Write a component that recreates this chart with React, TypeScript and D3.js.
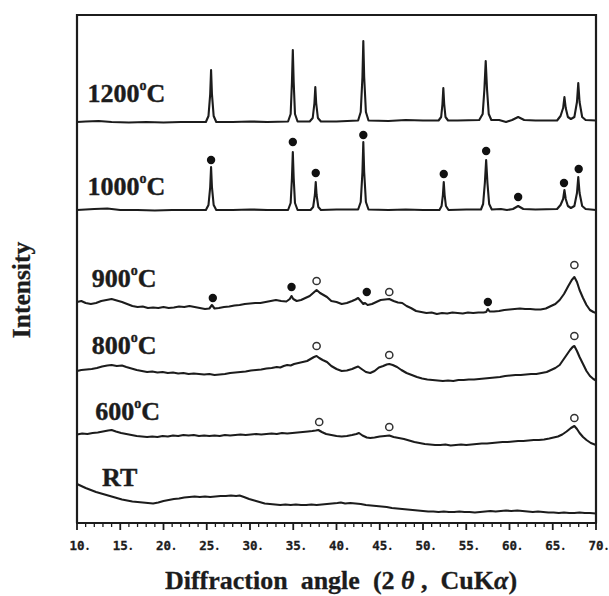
import React from "react";
import * as d3 from "d3";

// ---------- data (2θ in degrees, intensity in arbitrary units above each curve's baseline) ----------
const X_TICKS = [10, 15, 20, 25, 30, 35, 40, 45, 50, 55, 60, 65, 70];
const X_TICK_LABELS = ["10", "15", "20", "25", "30", "35", "40", "45", "50", "55", "60", "65", "70"];

const SERIES_NAMES = ["RT", "600", "800", "900", "1000", "1200"];
const SERIES_OFFSETS = [10, 78, 142, 210, 313, 401];

const RT: [number, number][] = [[10,29],[10.5,27],[11,25],[11.6,23],[12.2,21],[12.8,19.5],[13.4,18],[14,16.5],[14.6,15],[15.2,13.5],[15.8,12.5],[16.4,11.5],[17,11],[17.6,10.5],[18.2,10],[18.8,9.5],[19.4,10.5],[20,12],[20.6,13],[21.2,14],[21.8,14.5],[22.4,15.5],[23,16],[23.6,16.5],[24.2,16],[24.8,16.5],[25.4,16],[26,16.5],[26.6,17],[27.2,17],[27.8,17.5],[28.4,17],[28.8,17.5],[29.3,16],[29.9,14],[30.5,12.5],[31.1,11],[31.7,9.5],[32.3,9],[32.9,8.5],[33.5,8],[34.1,8.5],[34.7,8],[35.3,8.5],[35.9,8],[36.5,8],[37.1,8.5],[37.7,8],[38.3,8.5],[38.9,9],[39.5,9.5],[40.1,10],[40.5,10.5],[41,9.5],[41.6,10],[42.2,9.5],[42.8,9],[43.4,8],[44,7.5],[44.6,7],[45.2,6.5],[45.8,6],[46.4,5],[47,4.5],[47.6,4],[48.2,3.5],[48.8,3],[49.4,2.5],[50,2],[50.6,1.5],[51.2,1.5],[51.8,1],[52.4,1.5],[53,1],[53.6,1],[54.2,1.5],[54.8,1],[55.4,1],[56,0.5],[56.6,1],[57.2,1.5],[57.8,2],[58.4,1.5],[59,2],[59.6,2.5],[60.2,2],[60.9,2.5],[61.5,2],[62.1,1.5],[62.7,1],[63.3,1.5],[63.9,1],[64.5,0.5],[65.1,0.5],[65.7,0],[66.3,0.5],[66.9,0],[67.5,0],[68.1,0.5],[68.7,0],[69.3,0],[70,-0.5]];

const T600: [number, number][] = [[10,10.5],[10.6,11.5],[11.2,11],[11.8,12],[12.4,12.5],[13,13.5],[13.6,14.5],[14,15],[14.5,13.5],[15.1,12],[15.7,11],[16.3,10],[16.9,9],[17.5,8.5],[18.1,8],[18.7,8.5],[19.3,8],[19.9,9],[20.5,8.5],[21.1,9.5],[21.7,9],[22.3,10],[22.9,9.5],[23.5,10],[24.1,9],[24.7,9.5],[25.3,9],[25.9,9.5],[26.5,9],[27.1,10],[27.7,9.5],[28.3,10],[28.9,10.5],[29.5,10],[30.1,10.5],[30.7,11],[31.3,10.5],[31.9,11],[32.5,11.5],[33.1,11],[33.7,12],[34.3,11.5],[34.9,12],[35.5,12.5],[36.1,13],[36.7,13.5],[37.2,14],[37.6,14.5],[37.9,15],[38.3,13],[38.8,11],[39.4,10],[40,9],[40.6,8.5],[41.2,9],[41.8,10],[42.3,11],[42.6,12],[43,9.5],[43.5,7.5],[43.9,7],[44.4,7.5],[45,8.5],[45.6,9],[46.1,9.5],[46.6,8],[47.2,7],[47.8,6],[48.4,4.5],[49,3],[49.6,2],[50.2,1],[50.8,0.5],[51.4,0],[52,0],[52.6,0.5],[53.2,-0.5],[53.8,0],[54.4,0.5],[55,0],[55.6,0.5],[56.2,1],[56.8,1.5],[57.4,1.5],[58,2],[58.6,2.5],[59.2,3],[59.8,3],[60.4,3.5],[61,4],[61.6,4],[62.2,4.5],[62.8,5],[63.4,5],[64,5.5],[64.6,6.5],[65.1,7.5],[65.6,8.5],[66.1,10.5],[66.6,13.5],[67.1,17],[67.5,19],[67.8,16],[68.1,12],[68.5,8],[68.9,5],[69.4,2],[70,0]];

const T800: [number, number][] = [[10,10],[10.5,11],[11.1,11.5],[11.7,12],[12.3,13],[12.9,14.5],[13.5,15.5],[14,16],[14.6,15],[15.2,15.5],[15.7,14],[16.3,12.5],[16.9,11],[17.5,10],[18.1,9],[18.7,9.5],[19.3,8.5],[19.9,9],[20.5,8],[21.1,8.5],[21.7,7.5],[22.3,8],[22.9,7],[23.5,7.5],[24.1,7],[24.7,6.5],[25.3,7],[25.9,6],[26.5,6.5],[27.1,7],[27.7,8],[28.3,8.5],[28.9,9],[29.5,9.5],[30.1,10.5],[30.7,11],[31.3,11.5],[31.9,12.5],[32.5,13],[33.1,14],[33.5,13.5],[33.9,15],[34.3,16],[34.7,15.5],[35.1,17],[35.6,18],[36.1,19],[36.6,20],[37,22],[37.4,24],[37.7,25],[38,23],[38.4,21],[38.9,19],[39.4,15],[40,12],[40.6,10],[41.2,10.5],[41.8,12],[42.2,13.5],[42.5,14.5],[42.9,12],[43.4,9],[43.9,8],[44.4,10],[44.9,13.5],[45.4,15],[45.8,16.5],[46.1,17],[46.5,16],[47,14],[47.5,11],[48.1,8],[48.7,6],[49.3,4],[49.9,2.5],[50.5,1.5],[51.1,1],[51.7,0.5],[52.3,0],[52.9,0.5],[53.5,0],[54.1,1],[54.7,1],[55.3,1.5],[55.9,1.5],[56.5,2],[57.1,2.5],[57.7,3],[58.3,3.5],[58.9,4],[59.5,5],[60.1,5.5],[60.7,6],[61.3,6],[61.9,6.5],[62.5,7],[63.1,7],[63.7,8],[64.3,9],[64.8,11],[65.3,13],[65.8,16],[66.2,21],[66.6,26],[67,31],[67.3,34],[67.5,35],[67.8,30],[68.1,24],[68.5,17],[68.9,10],[69.3,5],[69.7,2],[70,0.5]];

const T900: [number, number][] = [[10,11],[10.5,12],[11,10],[11.6,9],[12.2,10],[12.8,12],[13.4,13],[14,14],[14.6,12.5],[15.2,11],[15.8,9],[16.4,7],[17,6],[17.6,6.5],[18.2,5],[18.8,5.5],[19.4,5],[20,6],[20.6,5],[21.2,5.5],[21.8,6.5],[22.4,6],[23,7],[23.6,6],[24.2,5],[24.8,4],[25.3,4.5],[25.6,8],[25.9,4.5],[26.4,5],[27,6],[27.6,6.5],[28.2,7.5],[28.8,8],[29.4,9],[30,9.5],[30.6,10],[31.2,10],[31.8,11],[32.4,12],[33,13],[33.6,12],[34.2,11.5],[34.6,14],[34.8,17],[35,14],[35.4,12],[35.9,13],[36.4,15],[36.9,17],[37.3,20],[37.7,23],[38.1,20],[38.5,18],[38.9,16],[39.4,12],[40,11],[40.6,9],[41.2,10],[41.8,12],[42.2,13.5],[42.5,15],[42.8,12],[43.1,9],[43.3,10],[43.6,8],[44.1,9],[44.6,11],[45.1,13],[45.6,13.5],[46.1,14],[46.6,12],[47.1,10.5],[47.6,10],[48.1,7],[48.6,5],[49.2,2],[49.8,1],[50.4,0],[51,0.5],[51.6,-1],[52.2,0],[52.8,-0.5],[53.4,0.5],[54,0],[54.6,-0.5],[55.2,0.5],[55.8,0],[56.4,0.5],[57,0.5],[57.3,1],[57.5,4],[57.7,1.5],[58.2,1.5],[58.8,2],[59.4,3],[60,3.5],[60.6,4],[61.2,4.5],[61.8,4],[62.4,4],[63,3.5],[63.6,3.5],[64.2,4.5],[64.8,7],[65.3,9],[65.8,13],[66.3,19],[66.8,27],[67.2,33],[67.5,36],[67.8,31],[68.1,23],[68.5,15],[68.9,8],[69.3,3],[69.7,1],[70,0]];

const T1000: [number, number][] = [[10,0],[11,0.5],[12,1],[13.5,1.5],[15,0],[17,0],[19,-0.5],[21,0],[23,0],[24.9,0],[25.2,5],[25.4,23],[25.5,43],[25.6,23],[25.8,5],[26.1,0],[28,0],[30,0.5],[32,0],[34.4,0],[34.7,7],[34.85,32],[34.95,58],[35.05,32],[35.2,7],[35.5,0],[37,0],[37.3,3],[37.5,15],[37.6,28],[37.7,15],[37.9,3],[38.2,0],[40,0.5],[42.5,0.5],[42.8,8],[43,38],[43.1,68],[43.2,38],[43.4,8],[43.7,0.5],[46,0],[48,0.5],[50,0],[51.9,0],[52.15,4],[52.3,15],[52.4,28],[52.5,15],[52.65,4],[52.95,0],[55,0.5],[56.7,0.5],[56.95,6],[57.15,27],[57.3,50],[57.45,27],[57.65,6],[57.95,0.5],[59,1],[59.7,0],[60.4,1],[61,4],[61.6,1],[63,0.5],[65.5,1],[65.9,5],[66.2,11],[66.35,20],[66.5,11],[66.75,4],[67.1,2],[67.5,4],[67.8,17],[67.95,33],[68.1,17],[68.4,4],[68.8,1],[70,0]];

const T1200: [number, number][] = [[10,0],[11,0.5],[12.5,1],[14,0],[16,-0.5],[18,0],[20,-0.5],[22,0],[24.9,0],[25.2,6],[25.4,28],[25.5,52],[25.6,28],[25.8,6],[26.1,0],[28,0],[30,0.5],[32,0],[34.4,0.5],[34.7,8],[34.85,40],[34.95,72],[35.05,40],[35.2,8],[35.5,0.5],[36.9,0.5],[37.25,4],[37.45,19],[37.55,35],[37.65,19],[37.85,4],[38.2,0.5],[40,0.5],[42.5,1.5],[42.8,10],[43,45],[43.1,81],[43.2,45],[43.4,10],[43.7,1.5],[46,1],[48,2],[50,1.5],[51.8,1.5],[52.1,5],[52.25,18],[52.35,34],[52.45,18],[52.6,5],[52.9,1.5],[54,1.5],[56.5,2],[56.9,8],[57.1,33],[57.25,61],[57.4,33],[57.6,8],[57.9,2],[58.8,2],[59.6,0],[60.3,2],[61,5],[61.7,2],[63,1.5],[65.5,1.5],[65.9,6],[66.2,14],[66.35,25],[66.5,14],[66.75,5],[67.1,3],[67.5,5],[67.8,20],[67.95,39],[68.1,20],[68.4,5],[68.8,2],[70,1.5]];

const SERIES_DATA = [RT, T600, T800, T900, T1000, T1200];

// markers: [series index, 2θ, intensity above baseline]
const FILLED_MARKERS: [number, number, number][] = [
  [4, 25.5, 50], [4, 34.95, 68], [4, 37.6, 37], [4, 43.1, 75], [4, 52.4, 36],
  [4, 57.3, 59], [4, 61.0, 13], [4, 66.3, 27], [4, 68.0, 41],
  [3, 25.7, 15], [3, 34.8, 26], [3, 43.5, 21], [3, 57.5, 11],
];
const OPEN_MARKERS: [number, number, number][] = [
  [3, 37.7, 32], [3, 46.1, 21], [3, 67.5, 48],
  [2, 37.7, 35], [2, 46.1, 26], [2, 67.5, 45],
  [1, 38.0, 23], [1, 46.1, 18], [1, 67.5, 27],
];

const X_TITLE = "Diffraction  angle  (2";
const Y_TITLE = "Intensity";

export default function App() {
  const W = 609, H = 596;
  const x = d3.scaleLinear().domain([10, 70]).range([77, 596]);
  const y = d3.scaleLinear().domain([0, 507]).range([523, 16]);
  const line = d3.line<[number, number]>().x(d => x(d[0])).y(d => y(d[1])).curve(d3.curveLinear);

  const serif = "'Liberation Serif', 'Times New Roman', serif";
  const mono = "'DejaVu Sans Mono', monospace";
  const ink = "#1c1c1c";

  // label layout: [x angle, height above baseline]
  const labelPos: [number, number][] = [[12.9, 27], [12.1, 25], [11.7, 27], [11.7, 26], [11.2, 15], [11.2, 20]];

  const minor = d3.range(10, 70.01, 1);

  return (
    <svg width={W} height={H} style={{ position: "absolute", left: 0, top: 0, background: "#fff" }}>
      <rect x={0} y={0} width={W} height={H} fill="#fff" />
      {/* frame */}
      <path d={`M${x(10)},${y(0)} V${y(507) - 1} H${x(70)} V${y(0)}`} fill="none" stroke={ink} strokeWidth={2.2} />
      <line x1={x(10) - 1} x2={x(70) + 1} y1={y(0)} y2={y(0)} stroke={ink} strokeWidth={2.2} />
      {/* ticks */}
      {minor.map(v => {
        const major = Math.abs(v % 5) < 1e-6;
        return <line key={v} x1={x(v)} x2={x(v)} y1={y(0)} y2={y(0) + (major ? 7 : 4)} stroke={ink} strokeWidth={major ? 1.8 : 1.3} />;
      })}
      {X_TICKS.map((v, i) => (
        <g key={v} fontWeight="bold" fill={ink}>
          <text x={x(v)} y={550} textAnchor="middle" fontFamily={mono} fontSize={12.5} stroke={ink} strokeWidth={0.3}>{X_TICK_LABELS[i]}</text>
          <text x={x(v) + 10.5} y={550} textAnchor="middle" fontFamily={serif} fontSize={14}>.</text>
        </g>
      ))}
      {/* curves */}
      {SERIES_DATA.map((data, i) => (
        <path key={i} d={line(data.map(d => [d[0], d[1] + SERIES_OFFSETS[i]]) as [number, number][]) || ""}
          fill="none" stroke={ink} strokeWidth={2.1} strokeLinejoin="round" />
      ))}
      {/* markers */}
      {FILLED_MARKERS.map((m, i) => (
        <circle key={"f" + i} cx={x(m[1])} cy={y(m[2] + SERIES_OFFSETS[m[0]])} r={4.2} fill="#111" />
      ))}
      {OPEN_MARKERS.map((m, i) => (
        <circle key={"o" + i} cx={x(m[1])} cy={y(m[2] + SERIES_OFFSETS[m[0]])} r={3.6} fill="#fff" stroke="#333" strokeWidth={1.5} />
      ))}
      {/* curve labels */}
      {SERIES_NAMES.map((name, i) => {
        const [ax, h] = labelPos[i];
        const tx = x(ax), ty = y(SERIES_OFFSETS[i] + h);
        if (name === "RT") {
          return <text key={name} x={tx} y={ty} fontFamily={serif} fontWeight="bold" fontSize={26} fill={ink} stroke={ink} strokeWidth={0.4}>RT</text>;
        }
        return (
          <text key={name} x={tx} y={ty} fontFamily={serif} fontWeight="bold" fontSize={26} fill={ink} stroke={ink} strokeWidth={0.4}>
            {name}
            <tspan fontSize={14} dy={-12}>o</tspan>
            <tspan dy={12}>C</tspan>
          </text>
        );
      })}
      {/* axis titles */}
      <text x={341} y={589} textAnchor="middle" fontFamily={serif} fontWeight="bold" fontSize={26} fill={ink} stroke={ink} strokeWidth={0.3} style={{ whiteSpace: "pre" }}>
        {X_TITLE}
        <tspan fontStyle="italic">{" θ"}</tspan>
        {" ,  CuK"}
        <tspan fontStyle="italic">α</tspan>
        {")"}
      </text>
      <text transform="translate(30,290) rotate(-90)" textAnchor="middle" fontFamily={serif} fontWeight="bold" fontSize={25.5} fill={ink} stroke={ink} strokeWidth={0.3}>
        {Y_TITLE}
      </text>
    </svg>
  );
}
